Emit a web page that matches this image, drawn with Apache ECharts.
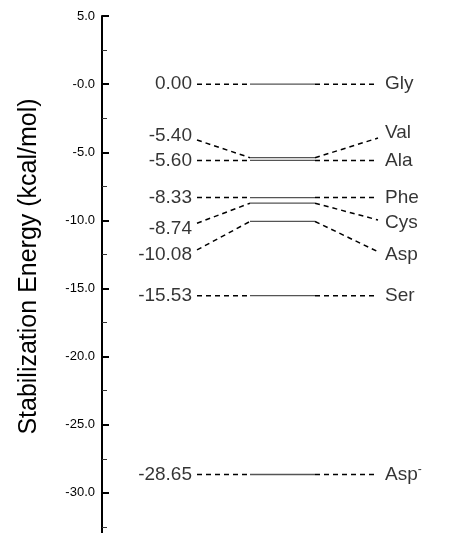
<!DOCTYPE html>
<html>
<head>
<meta charset="utf-8">
<script src="https://cdn.jsdelivr.net/npm/echarts@6/dist/echarts.min.js"></script>
<style>html,body{margin:0;padding:0;background:#fff;}#c{width:453px;height:533px;}</style>
</head>
<body>
<div id="c"></div>
<script>
// ---- data (kcal/mol) ----
const names = ['Gly', 'Val', 'Ala', 'Phe', 'Cys', 'Asp', 'Ser', 'Asp-'];
const energies = [0.00, -5.40, -5.60, -8.33, -8.74, -10.08, -15.53, -28.65];
const valueTexts = ['0.00', '-5.40', '-5.60', '-8.33', '-8.74', '-10.08', '-15.53', '-28.65'];
// where the labels sit on the energy scale (some are shifted for readability)
const leftLabelAt = [0.00, -3.81, -5.60, -8.33, -10.58, -12.54, -15.53, -28.65];
const leftLinkAt = [0.00, -4.10, -5.60, -8.33, -10.21, -12.17, -15.53, -28.65];
const rightLabelAt = [0.00, -3.59, -5.60, -8.33, -10.17, -12.54, -15.53, -28.65];
const rightLinkAt = [0.00, -3.96, -5.60, -8.33, -9.97, -12.30, -15.53, -28.65];
const tickValues = [5, 0, -5, -10, -15, -20, -25, -30];
const tickLabels = ['5.0', '-0.0', '-5.0', '-10.0', '-15.0', '-20.0', '-25.0', '-30.0'];

// ---- layout (horizontal positions on hidden x axis) ----
const X_LEFT_LABEL = 90, X_LEFT_LINK = 95, X_LEVEL_L = 148, X_LEVEL_R = 213, X_RIGHT_LINK = 276, X_RIGHT_LABEL = 283;

const chart = echarts.init(document.getElementById('c'), null, {renderer: 'canvas'});
const series = [];
const dash = {color: '#000', width: 1.5, type: [5, 4]};
names.forEach((n, i) => {
  series.push({type: 'line', symbol: 'none', silent: true, lineStyle: dash,
    data: [[X_LEFT_LINK, leftLinkAt[i]], [X_LEVEL_L, energies[i]]]});
  series.push({type: 'line', symbol: 'none', silent: true, lineStyle: {color: '#555', width: 1.3},
    data: [[X_LEVEL_L, energies[i]], [X_LEVEL_R, energies[i]]]});
  series.push({type: 'line', symbol: 'none', silent: true, lineStyle: dash,
    data: [[X_LEVEL_R, energies[i]], [X_RIGHT_LINK, rightLinkAt[i]]]});
});
series.push({
  type: 'scatter', symbolSize: 0, silent: true,
  data: valueTexts.map((t, i) => ({value: [X_LEFT_LABEL, leftLabelAt[i]], name: t})),
  label: {show: true, position: 'left', distance: 0, formatter: p => p.name,
    fontFamily: 'Liberation Sans, Arial, sans-serif', fontSize: 19, color: '#000'}
});
series.push({
  type: 'scatter', symbolSize: 0, silent: true,
  data: names.map((t, i) => ({value: [X_RIGHT_LABEL, rightLabelAt[i]], name: t})),
  label: {show: true, position: 'right', distance: 0,
    formatter: p => p.name === 'Asp-' ? '{n|Asp}{s|-}' : '{n|' + p.name + '}',
    rich: {
      n: {fontFamily: 'Liberation Sans, Arial, sans-serif', fontSize: 19, color: '#000', lineHeight: 22},
      s: {fontFamily: 'Liberation Sans, Arial, sans-serif', fontSize: 12, color: '#000', verticalAlign: 'top', lineHeight: 10, padding: [0, 0, 12, 0]}
    }}
});

chart.setOption({
  animation: false,
  backgroundColor: '#fff',
  grid: {left: 102, top: 16, width: 351, height: 545, containLabel: false, outerBoundsMode: 'none'},
  xAxis: {type: 'value', min: 0, max: 351, show: false},
  yAxis: {
    type: 'value', min: -35, max: 5, interval: 5,
    name: 'Stabilization Energy (kcal/mol)', nameLocation: 'middle', nameRotate: 90, nameGap: 60,
    nameTextStyle: {fontFamily: 'Liberation Sans, Arial, sans-serif', fontSize: 25, color: '#000', padding: [0, 0, 0, 44]},
    axisLine: {show: true, onZero: false, lineStyle: {color: '#000', width: 2}},
    axisTick: {show: true, inside: true, length: 7, lineStyle: {color: '#000', width: 2}},
    minorTick: {show: true, splitNumber: 2, length: 5, lineStyle: {color: '#333', width: 1}},
    splitLine: {show: false},
    axisLabel: {margin: 7, fontFamily: 'Liberation Sans, Arial, sans-serif', fontSize: 13, color: '#000',
      formatter: v => { const k = tickValues.indexOf(v); return k >= 0 ? tickLabels[k] : ''; }}
  },
  series: series
});
</script>
</body>
</html>
